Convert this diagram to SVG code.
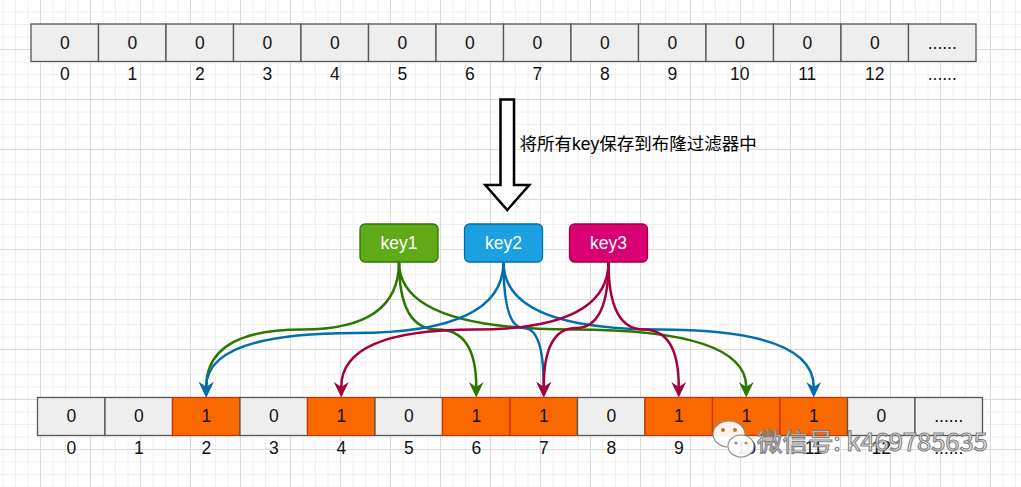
<svg xmlns="http://www.w3.org/2000/svg" width="1021" height="487" viewBox="0 0 1021 487">
  <defs>
    <pattern id="grid" x="40" y="49" width="50" height="50" patternUnits="userSpaceOnUse">
      <path d="M13 0V50M25.5 0V50M38 0V50M0 13H50M0 25.5H50M0 38H50" stroke="#f0f0f0" stroke-width="1" fill="none"/>
      <path d="M0.5 0V50M0 0.5H50" stroke="#dadada" stroke-width="1" fill="none"/>
    </pattern>
    <marker id="ah-green" viewBox="0 -8 16 16" markerUnits="userSpaceOnUse" markerWidth="16" markerHeight="16" refX="5" refY="0" orient="auto">
      <path d="M0 -7.4L15.5 0L0 7.4L5 0Z" fill="#2d7600"/>
    </marker>
    <marker id="ah-blue" viewBox="0 -8 16 16" markerUnits="userSpaceOnUse" markerWidth="16" markerHeight="16" refX="5" refY="0" orient="auto">
      <path d="M0 -7.4L15.5 0L0 7.4L5 0Z" fill="#006eaf"/>
    </marker>
    <marker id="ah-red" viewBox="0 -8 16 16" markerUnits="userSpaceOnUse" markerWidth="16" markerHeight="16" refX="5" refY="0" orient="auto">
      <path d="M0 -7.4L15.5 0L0 7.4L5 0Z" fill="#a50040"/>
    </marker>
  </defs>
  <style>
    text { font-family: "Liberation Sans", "Noto Sans CJK SC", sans-serif; font-size: 17.5px; fill: #111; }
    .c { text-anchor: middle; }
    .cell { fill: #eeeeee; stroke: #555555; stroke-width: 1.3; }
    .on { fill: #fa6800; stroke: #c73500; stroke-width: 1.3; }
    .key text { fill: #ffffff; text-anchor: middle; }
    .e { fill: none; stroke-width: 2.5; }
    .g { stroke: #2d7600; marker-end: url(#ah-green); }
    .b { stroke: #006eaf; marker-end: url(#ah-blue); }
    .r { stroke: #a50040; marker-end: url(#ah-red); }
    .wm { font-family: "Noto Sans CJK SC", "Liberation Sans", sans-serif; font-size: 25.5px; fill: #ffffff; stroke: #7a7a7a; stroke-width: 1.2; }
  </style>

  <rect width="1021" height="487" fill="#ffffff"/>
  <rect width="1021" height="487" fill="url(#grid)"/>

  <!-- top array -->
  <g id="top-array">
    <g id="top-0"><rect class="cell" x="31" y="24" width="67.5" height="37.5"/><text class="c" x="64.75" y="48.8">0</text></g>
    <g id="top-1"><rect class="cell" x="98.5" y="24" width="67.5" height="37.5"/><text class="c" x="132.25" y="48.8">0</text></g>
    <g id="top-2"><rect class="cell" x="166" y="24" width="67.5" height="37.5"/><text class="c" x="199.75" y="48.8">0</text></g>
    <g id="top-3"><rect class="cell" x="233.5" y="24" width="67.5" height="37.5"/><text class="c" x="267.25" y="48.8">0</text></g>
    <g id="top-4"><rect class="cell" x="301" y="24" width="67.5" height="37.5"/><text class="c" x="334.75" y="48.8">0</text></g>
    <g id="top-5"><rect class="cell" x="368.5" y="24" width="67.5" height="37.5"/><text class="c" x="402.25" y="48.8">0</text></g>
    <g id="top-6"><rect class="cell" x="436" y="24" width="67.5" height="37.5"/><text class="c" x="469.75" y="48.8">0</text></g>
    <g id="top-7"><rect class="cell" x="503.5" y="24" width="67.5" height="37.5"/><text class="c" x="537.25" y="48.8">0</text></g>
    <g id="top-8"><rect class="cell" x="571" y="24" width="67.5" height="37.5"/><text class="c" x="604.75" y="48.8">0</text></g>
    <g id="top-9"><rect class="cell" x="638.5" y="24" width="67.5" height="37.5"/><text class="c" x="672.25" y="48.8">0</text></g>
    <g id="top-10"><rect class="cell" x="706" y="24" width="67.5" height="37.5"/><text class="c" x="739.75" y="48.8">0</text></g>
    <g id="top-11"><rect class="cell" x="773.5" y="24" width="67.5" height="37.5"/><text class="c" x="807.25" y="48.8">0</text></g>
    <g id="top-12"><rect class="cell" x="841" y="24" width="67.5" height="37.5"/><text class="c" x="874.75" y="48.8">0</text></g>
    <g id="top-more"><rect class="cell" x="908.5" y="24" width="67.5" height="37.5"/><text class="c" x="942.25" y="48.8">......</text></g>
  </g>
  <g id="top-index">
    <text class="c" x="64.75" y="80">0</text>
    <text class="c" x="132.25" y="80">1</text>
    <text class="c" x="199.75" y="80">2</text>
    <text class="c" x="267.25" y="80">3</text>
    <text class="c" x="334.75" y="80">4</text>
    <text class="c" x="402.25" y="80">5</text>
    <text class="c" x="469.75" y="80">6</text>
    <text class="c" x="537.25" y="80">7</text>
    <text class="c" x="604.75" y="80">8</text>
    <text class="c" x="672.25" y="80">9</text>
    <text class="c" x="739.75" y="80">10</text>
    <text class="c" x="807.25" y="80">11</text>
    <text class="c" x="874.75" y="80">12</text>
    <text class="c" x="942.25" y="80">......</text>
  </g>

  <!-- big hollow arrow -->
  <g id="big-arrow">
    <path d="M500.5 99.5H514V185H529.3L507.3 210L485.3 185H500.5Z" fill="#ffffff" stroke="#000000" stroke-width="2.5" stroke-linejoin="miter"/>
  </g>
  <g id="arrow-label">
    <text x="519.5" y="149.5" style="fill:#000">将所有key保存到布隆过滤器中</text>
  </g>

  <!-- keys -->
  <g id="key1" class="key"><rect x="360" y="224" width="78" height="38" rx="5" fill="#60a917" stroke="#2d7600" stroke-width="1.3"/><text x="399" y="249">key1</text></g>
  <g id="key2" class="key"><rect x="464.5" y="224" width="78" height="38" rx="5" fill="#1ba1e2" stroke="#006eaf" stroke-width="1.3"/><text x="503.5" y="249">key2</text></g>
  <g id="key3" class="key"><rect x="569.5" y="224" width="78" height="38" rx="5" fill="#d80073" stroke="#a50040" stroke-width="1.3"/><text x="608.5" y="249">key3</text></g>

  <!-- connectors -->
  <g id="connectors">
    <path class="e g" d="M399 262Q399 329.5 302.6 329.5Q206.25 329.5 206.25 387"/>
    <path class="e g" d="M399 262Q399 329.5 437.6 329.5Q476.25 329.5 476.25 387"/>
    <path class="e g" d="M399 262Q399 329.5 572.6 329.5Q746.25 329.5 746.25 387"/>
    <path class="e b" d="M503.5 262Q503.5 333 354.9 333Q206.25 333 206.25 387"/>
    <path class="e b" d="M503.5 262Q503.5 328 523.6 328Q543.75 328 543.75 387"/>
    <path class="e b" d="M503.5 262Q503.5 329.5 658.6 329.5Q813.75 329.5 813.75 387"/>
    <path class="e r" d="M608.5 262Q608.5 329.5 474.9 329.5Q341.25 329.5 341.25 387"/>
    <path class="e r" d="M608.5 262Q608.5 328 576.1 328Q543.75 328 543.75 387"/>
    <path class="e r" d="M608.5 262Q608.5 329.5 643.6 329.5Q678.75 329.5 678.75 387"/>
  </g>

  <!-- bottom array -->
  <g id="bottom-array">
    <g id="bit-0"><rect class="cell" x="37.5" y="397.5" width="67.5" height="38"/><text class="c" x="71.25" y="422.3">0</text></g>
    <g id="bit-1"><rect class="cell" x="105" y="397.5" width="67.5" height="38"/><text class="c" x="138.75" y="422.3">0</text></g>
    <g id="bit-2"><rect class="on" x="172.5" y="397.5" width="67.5" height="38"/><text class="c" x="206.25" y="422.3">1</text></g>
    <g id="bit-3"><rect class="cell" x="240" y="397.5" width="67.5" height="38"/><text class="c" x="273.75" y="422.3">0</text></g>
    <g id="bit-4"><rect class="on" x="307.5" y="397.5" width="67.5" height="38"/><text class="c" x="341.25" y="422.3">1</text></g>
    <g id="bit-5"><rect class="cell" x="375" y="397.5" width="67.5" height="38"/><text class="c" x="408.75" y="422.3">0</text></g>
    <g id="bit-6"><rect class="on" x="442.5" y="397.5" width="67.5" height="38"/><text class="c" x="476.25" y="422.3">1</text></g>
    <g id="bit-7"><rect class="on" x="510" y="397.5" width="67.5" height="38"/><text class="c" x="543.75" y="422.3">1</text></g>
    <g id="bit-8"><rect class="cell" x="577.5" y="397.5" width="67.5" height="38"/><text class="c" x="611.25" y="422.3">0</text></g>
    <g id="bit-9"><rect class="on" x="645" y="397.5" width="67.5" height="38"/><text class="c" x="678.75" y="422.3">1</text></g>
    <g id="bit-10"><rect class="on" x="712.5" y="397.5" width="67.5" height="38"/><text class="c" x="746.25" y="422.3">1</text></g>
    <g id="bit-11"><rect class="on" x="780" y="397.5" width="67.5" height="38"/><text class="c" x="813.75" y="422.3">1</text></g>
    <g id="bit-12"><rect class="cell" x="847.5" y="397.5" width="67.5" height="38"/><text class="c" x="881.25" y="422.3">0</text></g>
    <g id="bit-more"><rect class="cell" x="915" y="397.5" width="67.5" height="38"/><text class="c" x="948.75" y="422.3">......</text></g>
  </g>
  <g id="bottom-index">
    <text class="c" x="71.25" y="454.3">0</text>
    <text class="c" x="138.75" y="454.3">1</text>
    <text class="c" x="206.25" y="454.3">2</text>
    <text class="c" x="273.75" y="454.3">3</text>
    <text class="c" x="341.25" y="454.3">4</text>
    <text class="c" x="408.75" y="454.3">5</text>
    <text class="c" x="476.25" y="454.3">6</text>
    <text class="c" x="543.75" y="454.3">7</text>
    <text class="c" x="611.25" y="454.3">8</text>
    <text class="c" x="678.75" y="454.3">9</text>
    <text class="c" x="746.25" y="454.3">10</text>
    <text class="c" x="813.75" y="454.3">11</text>
    <text class="c" x="881.25" y="454.3">12</text>
    <text class="c" x="948.75" y="454.3">......</text>
  </g>

  <!-- watermark -->
  <g id="watermark" opacity="0.92">
    <ellipse cx="729" cy="434" rx="16" ry="13" fill="#ffffff" stroke="#8a8a8a" stroke-width="1.2"/>
    <circle cx="723" cy="430" r="2" fill="#c0703a"/>
    <circle cx="735" cy="430" r="2" fill="#c0703a"/>
    <ellipse cx="741" cy="446" rx="13" ry="11" fill="#ffffff" stroke="#8a8a8a" stroke-width="1.2"/>
    <circle cx="736" cy="443" r="1.6" fill="#888"/>
    <circle cx="746" cy="443" r="1.6" fill="#888"/>
    <text class="wm" x="757" y="451">微信号: k469785635</text>
  </g>
</svg>
